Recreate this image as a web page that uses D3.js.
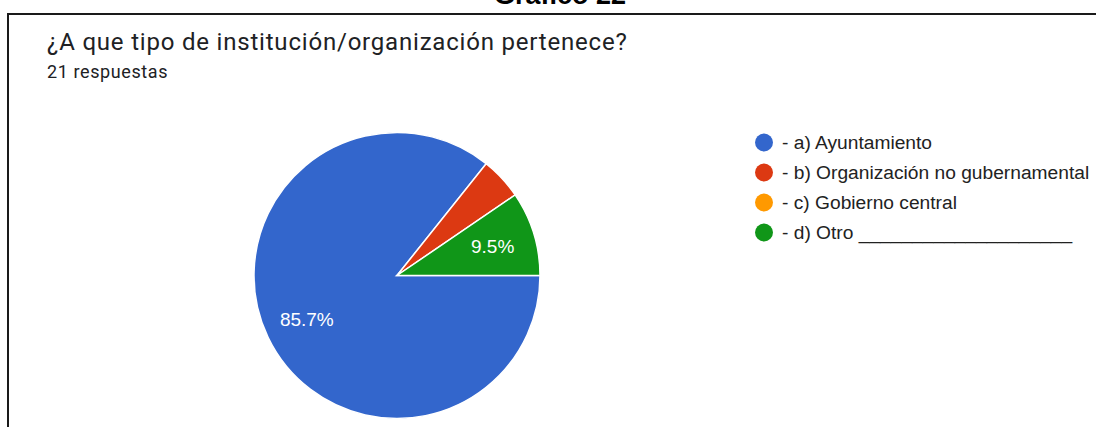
<!DOCTYPE html>
<html>
<head>
<meta charset="utf-8">
<script src="https://cdn.jsdelivr.net/npm/d3@7"></script>
<style>
  body { margin: 0; background: #fff; }
  svg { display: block; }
</style>
</head>
<body>
<svg id="chart"></svg>
<script>
var width = 1096;
var height = 427;

var categories = ['- a) Ayuntamiento', '- b) Organización no gubernamental', '- c) Gobierno central', '- d) Otro ____________________'];
var counts = [18, 1, 0, 2];
var colors = ['#3366cc', '#dc3912', '#ff9900', '#109618'];
var total = 21;

var svg = d3.select('#chart')
  .attr('width', width)
  .attr('height', height);

// page heading, mostly cut off at the top (as in the source)
svg.append('text')
  .attr('x', 560)
  .attr('y', 4)
  .attr('text-anchor', 'middle')
  .style('font-family', '"Liberation Sans", Arial, sans-serif')
  .style('font-weight', 'bold')
  .style('font-size', '27px')
  .style('fill', '#000')
  .text('Gráfico 22');

// card border (only top and left visible)
svg.append('rect')
  .attr('x', 8)
  .attr('y', 14)
  .attr('width', 1200)
  .attr('height', 600)
  .style('fill', 'none')
  .style('stroke', '#1a1a1a')
  .style('stroke-width', 2);

svg.append('text')
  .attr('x', 47)
  .attr('y', 50)
  .style('font-family', 'Roboto, sans-serif')
  .style('font-size', '24px')
  .style('letter-spacing', '0.8px')
  .style('fill', '#202124')
  .text('¿A que tipo de institución/organización pertenece?');

svg.append('text')
  .attr('x', 47)
  .attr('y', 78)
  .style('font-family', 'Roboto, sans-serif')
  .style('font-size', '18px')
  .style('letter-spacing', '0.6px')
  .style('fill', '#202124')
  .text(total + ' respuestas');

// pie
var radius = 143;
var pie = d3.pie()
  .sort(null)
  .value(function(d) { return d; })
  .startAngle(Math.PI / 2)
  .endAngle(Math.PI / 2 + 2 * Math.PI);

var arc = d3.arc().innerRadius(0).outerRadius(radius);
var labelArc = d3.arc().innerRadius(radius * 0.7).outerRadius(radius * 0.7);

var g = svg.append('g')
  .attr('transform', 'translate(397,275.5)');

var slices = pie(counts);

g.selectAll('path')
  .data(slices.filter(function(d) { return d.value > 0; }))
  .enter()
  .append('path')
  .attr('d', arc)
  .style('fill', function(d) { return colors[d.index]; })
  .style('stroke', '#fff')
  .style('stroke-width', 1.5);

g.selectAll('text')
  .data(slices.filter(function(d) { return d.value / total > 0.06; }))
  .enter()
  .append('text')
  .attr('transform', function(d) { return 'translate(' + labelArc.centroid(d) + ')'; })
  .attr('dy', '0.36em')
  .attr('text-anchor', 'middle')
  .style('font-family', '"Liberation Sans", Arial, sans-serif')
  .style('font-size', '19px')
  .style('fill', '#fff')
  .text(function(d) { return (d.value / total * 100).toFixed(1) + '%'; });

// legend
var legend = svg.append('g')
  .attr('transform', 'translate(764,142.5)');

var rows = legend.selectAll('g')
  .data(categories)
  .enter()
  .append('g')
  .attr('transform', function(d, i) { return 'translate(0,' + i * 30 + ')'; });

rows.append('circle')
  .attr('r', 9)
  .style('fill', function(d, i) { return colors[i]; });

rows.append('text')
  .attr('x', 18)
  .attr('dy', '0.36em')
  .style('font-family', '"Liberation Sans", Arial, sans-serif')
  .style('font-size', '19.2px')
  .style('fill', '#222')
  .text(function(d) { return d; });
</script>
</body>
</html>
